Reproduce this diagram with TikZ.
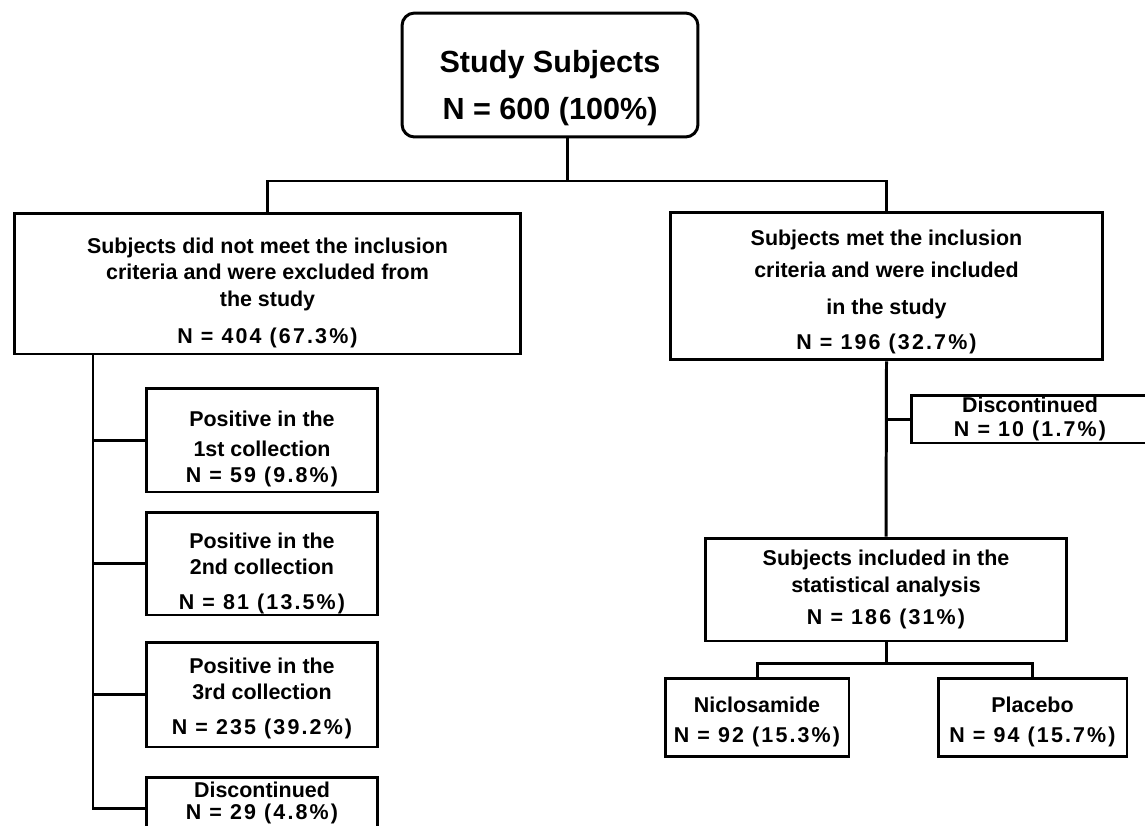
\documentclass[tikz,border=0pt]{standalone}
\usepackage{fontspec}
\setmainfont{Liberation Sans}
\newfontfamily\nfont[LetterSpace=10]{Liberation Sans}
\newcommand\padtop[1]{\rule{0pt}{\dimexpr0.73em+#1+#1\relax}}
\tikzset{
  flowbox/.style={draw, line width=1.7pt, inner sep=0pt, align=center,
    font=\fontsize{12.2pt}{15.1pt}\selectfont\bfseries},
  link/.style={line width=1.7pt}
}
\begin{document}
\begin{tikzpicture}[x=0.02cm, y=-0.02cm]
  \useasboundingbox (0,0) rectangle (1145,825);
  \clip (0,0) rectangle (1145,825);
  % top of the tree
  \node[flowbox, rounded corners=0.25cm, minimum width=5.92cm, minimum height=2.48cm,
    font=\fontsize{17.4pt}{21pt}\selectfont\bfseries] (subj) at (550,75)
    {\padtop{7.4pt}Study Subjects\\[5.7pt]N = 600 (100\%)};
  \node[flowbox, minimum width=10.14cm, minimum height=2.82cm] (excl) at (267.5,283.5)
    {\padtop{5.1pt}Subjects did not meet the inclusion\\criteria and were excluded from\\the study\\[6pt]{\nfont N = 404 (67.3\%)}};
  \node[flowbox, minimum width=8.66cm, minimum height=2.96cm] (incl) at (886.5,286)
    {\padtop{3.4pt}Subjects met the inclusion\\[3.1pt]criteria and were included\\[6pt]in the study\\[4.8pt]{\nfont N = 196 (32.7\%)}};
  % excluded side
  \node[flowbox, minimum width=4.64cm, minimum height=2.08cm] (pos1) at (262,440)
    {\padtop{5pt}Positive in the\\[2pt]1st collection\\{\nfont N = 59 (9.8\%)}};
  \node[flowbox, minimum width=4.64cm, minimum height=2.06cm] (pos2) at (262,563.5)
    {\padtop{5.6pt}Positive in the\\2nd collection\\[4.8pt]{\nfont N = 81 (13.5\%)}};
  \node[flowbox, minimum width=4.64cm, minimum height=2.10cm] (pos3) at (262,694.5)
    {\padtop{2.3pt}Positive in the\\3rd collection\\[4.8pt]{\nfont N = 235 (39.2\%)}};
  \node[flowbox, minimum width=4.64cm, minimum height=1.04cm] (disc1) at (262,803)
    {Discontinued\\[-2.6pt]{\nfont N = 29 (4.8\%)}};
  % included side
  \node[flowbox, minimum width=4.74cm, minimum height=0.96cm] (disc2) at (1030,419)
    {Discontinued\\[-1.4pt]{\nfont N = 10 (1.7\%)}};
  \node[flowbox, minimum width=7.24cm, minimum height=2.06cm] (stat) at (886,589.5)
    {Subjects included in the\\statistical analysis\\[3pt]{\nfont N = 186 (31\%)}};
  \node[flowbox, minimum width=3.68cm, minimum height=1.56cm] (nicl) at (757,717)
    {\padtop{2.8pt}Niclosamide\\[2pt]{\nfont N = 92 (15.3\%)}};
  \node[flowbox, minimum width=3.78cm, minimum height=1.56cm] (plac) at (1032.5,717)
    {\padtop{2.8pt}Placebo\\[2pt]{\nfont N = 94 (15.7\%)}};
  % connectors
  \coordinate (split) at (567,181);
  \draw[link] (subj.south -| split) -- (split);
  \draw[link] (excl.north) |- (split) -| (incl.north);
  \coordinate (lbus) at (93,808);
  \draw[link] (excl.south -| lbus) -- (lbus) -- (lbus -| disc1.west);
  \draw[link] (pos1.west -| lbus) -- (pos1.west);
  \draw[link] (pos2.west -| lbus) -- (pos2.west);
  \draw[link] (pos3.west -| lbus) -- (pos3.west);
  \draw[link] (incl.south) -- (stat.north);
  \draw[link] (disc2.west -| incl.south) -- (disc2.west);
  \draw[link] (stat.south) -- ++(0,21) coordinate (fork);
  \draw[link] (nicl.north) |- (fork) -| (plac.north);
\end{tikzpicture}
\end{document}
